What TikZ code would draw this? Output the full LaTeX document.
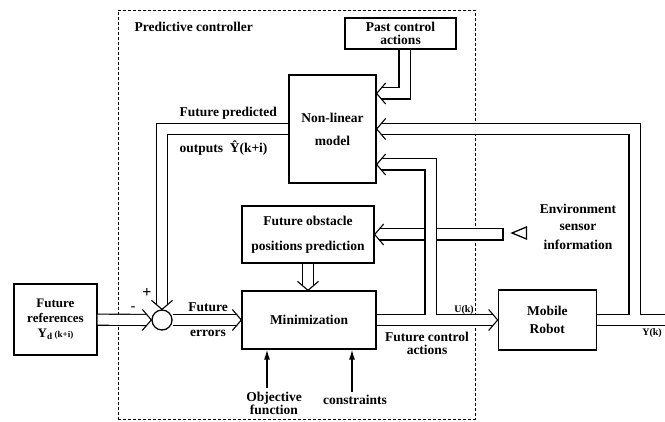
\documentclass[tikz,border=0pt]{standalone}
\usepackage{fontspec}
\setmainfont{Liberation Serif}
\usetikzlibrary{arrows.meta,positioning,shapes.geometric,decorations.markings}

\begin{document}
\begin{tikzpicture}[
  x=1pt, y=1pt,
  font=\fontsize{13.5}{15}\selectfont\bfseries,
  box/.style={draw, line width=1.3pt, align=center, inner sep=2pt},
  pipe/.style={draw, line width=1.1pt, double, double distance=10pt},
  chan/.style={pipe, shorten >=4.5pt,
    postaction={decorate, decoration={markings, mark=at position 1 with {
      \draw[line width=1.1pt, shorten >=0pt] (-9pt,10.5pt) -- (0pt,0pt) -- (-9pt,-10.5pt);}}}},
  thinarr/.style={draw, line width=1.3pt, -{Latex[length=10pt,width=6pt]}},
  ctrlbox/.style={draw, line width=0.9pt, dash pattern=on 3pt off 2pt},
  small/.style={font=\fontsize{10}{12}\selectfont\bfseries},
]
\useasboundingbox (0,0) rectangle (665,421);

% Predictive controller frame
\node[ctrlbox, minimum width=357pt, minimum height=409pt] (ctrl) at (296.5,206.5) {};
\node[anchor=west] (ctrltitle) at (131,394) {Predictive controller};

% Blocks
\node[box, minimum width=111pt, minimum height=31pt] (past) at (400.5,387.5)
  {Past control\\[-2pt]actions};
\node[box, minimum width=87pt, minimum height=108pt] (model) at (332.5,292)
  {Non-linear\\[8pt]model};
\node[box, minimum width=132pt, minimum height=57pt] (obst) at (308,186.5)
  {Future obstacle\\[10pt]positions prediction};
\node[box, minimum width=134pt, minimum height=58pt] (minim) at (309,101) {Minimization};
\node[box, minimum width=83pt, minimum height=71pt, font=\fontsize{13}{15}\selectfont\bfseries]
  (ref) at (55.5,101.5) {Future\\references\\Y\textsubscript{d}\,{\small(k+i)}};
\node[box, minimum width=98pt, minimum height=60pt, right=121pt of minim] (robot)
  {Mobile\\[3pt]Robot};
\node[draw, circle, line width=1.3pt, minimum size=20pt, inner sep=0pt] (sum) at (162,101) {};

% Sensor
\node[draw, isosceles triangle, shape border rotate=180, line width=1.3pt,
      minimum height=13pt, minimum width=12pt, inner sep=0pt] (sensor) at (522.5,188) {};
\node[align=center] (envtxt) at (578,194) {Environment\\[2pt]sensor\\[4pt]information};

% Channels
\coordinate (envend) at (503,186.5);
\coordinate (ubranch) at (430.5,106);
\coordinate (ybranch) at (634.5,106);
\coordinate (yout) at (665,101);

\draw[chan] ([xshift=4pt]past.south) |- ([yshift=35.5pt]model.east);
\draw[chan] (envend) -- (obst.east);
\draw[line width=1.1pt] ([yshift=6.1pt]envend) -- ([yshift=-6.1pt]envend);
\draw[chan] (model.west) -| (sum.north);
\draw[chan] (ref) -- (sum);
\draw[chan] (sum) -- (minim);
\draw[chan] (obst.south) -- (obst.south |- minim.north);
\draw[chan] (minim) -- (robot);
\draw[pipe] (robot) -- (yout);
\draw[chan] (ubranch) |- ([yshift=-35.5pt]model.east);
\draw[chan] (ybranch) |- (model.east);

% Inputs to the minimization
\node[align=center] (objfun) at (274,18) {Objective\\[-2pt]function};
\node (constr) at (355,21) {constraints};
\draw[thinarr] ([xshift=-7pt]objfun.north) -- ([xshift=-7pt]objfun.north |- minim.south);
\draw[thinarr] ([xshift=-3pt]constr.north) -- ([xshift=-3pt]constr.north |- minim.south);

% Labels
\node[anchor=west] (predlbl) at (176,308) {Future predicted};
\node[anchor=west] (outlbl) at (176,273) {outputs\ \ Ŷ(k+i)};
\node[font=\fontsize{16}{16}\selectfont\bfseries] (plus) at (147,128) {+};
\node (minus) at (133,112) {-};
\node (futlbl) at (208,114) {Future};
\node (errlbl) at (208,88) {errors};
\node[small] (ulbl) at (464,111) {U(k)};
\node[align=center] (fcalbl) at (427,78) {Future control\\[-2pt]actions};
\node[small] (ylbl) at (652,88) {Y(k)};

\end{tikzpicture}
\end{document}
